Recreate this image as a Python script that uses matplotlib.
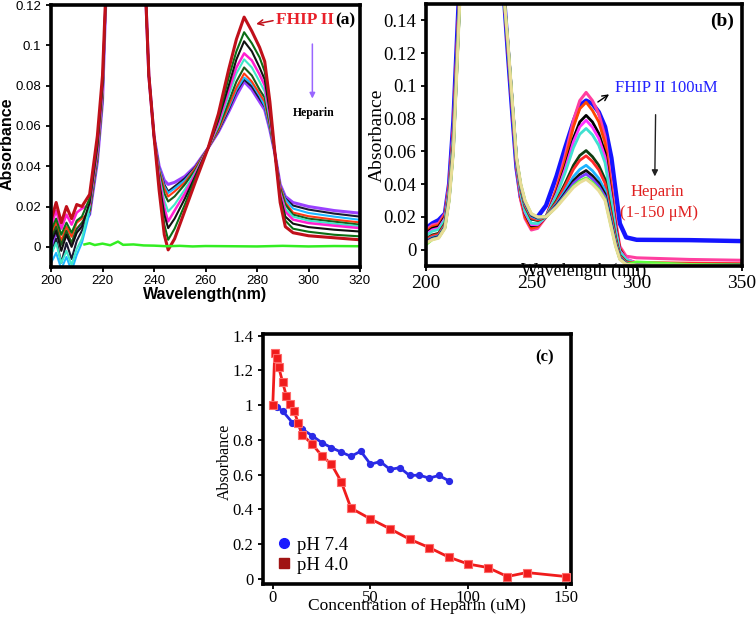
import matplotlib
matplotlib.use('Agg')
import matplotlib.pyplot as plt
import numpy as np
from matplotlib.lines import Line2D
from matplotlib.ticker import FuncFormatter

SERIF = ['Liberation Serif', 'DejaVu Serif']
SANS = ['Liberation Sans', 'DejaVu Sans']

# ---------------- Panel (a): UV-vis spectra, FHIP II + heparin ----------------
wl_a = [200, 202, 204, 206, 208, 210, 212, 215, 218, 220, 222, 236, 238, 240, 242, 244, 245.5, 248,
        252, 256, 261, 265, 269, 272, 275, 278, 281, 283, 285, 287, 289, 291, 294, 300, 310, 320]
a_darkred = [.013, .022, .012, .020, .014, .021, .020, .026, .055, .085, .150, .150, .085, .055, .028, .006, -.0015, .004,
             .018, .032, .049, .066, .088, .103, .114, .107, .099, .092, .072, .046, .022, .010, .007, .0055, .0045, .0035]
a_green1 = [.008, .014, .006, .012, .007, .013, .015, .024, .052, .082, .150, .150, .085, .055, .030, .011, .0035, .009,
            .021, .034, .049, .064, .084, .097, .1065, .101, .094, .087, .069, .046, .024, .013, .009, .0075, .006, .0052]
a_black1 = [.002, .008, -.002, .006, .000, .007, .010, .022, .050, .080, .150, .150, .085, .055, .032, .016, .0093, .014,
            .024, .035, .049, .063, .080, .093, .102, .097, .089, .083, .067, .046, .025, .015, .0115, .0098, .0085, .0076]
a_magenta = [.010, .018, .009, .016, .011, .017, .019, .021, .048, .078, .150, .150, .085, .055, .034, .0195, .0126, .018,
             .0265, .036, .049, .0615, .0775, .089, .096, .0925, .0855, .080, .065, .046, .0265, .0175, .0135, .0118, .0105, .0093]
a_aqua = [-.004, .002, -.008, -.002, -.009, -.001, .004, .020, .047, .077, .150, .150, .085, .055, .035, .023, .0175, .021,
          .0285, .037, .049, .060, .075, .086, .093, .089, .082, .077, .063, .046, .027, .019, .015, .013, .0115, .0102]
a_green2 = [.004, .010, .001, .008, .002, .009, .012, .018, .045, .075, .150, .150, .085, .055, .037, .0265, .0225, .025,
            .031, .038, .049, .059, .072, .082, .089, .085, .078, .074, .061, .046, .029, .021, .016, .014, .0125, .011]
a_red = [.006, .012, .003, .010, .005, .012, .014, .0175, .044, .074, .150, .150, .085, .055, .038, .029, .025, .0275,
         .032, .039, .049, .058, .070, .079, .086, .082, .076, .072, .060, .046, .030, .022, .017, .0152, .0135, .0121]
a_cyan = [-.008, -.003, -.011, -.005, -.012, -.004, .002, .017, .043, .073, .150, .150, .085, .055, .039, .030, .0267, .029,
          .033, .039, .049, .058, .069, .078, .084, .081, .075, .070, .059, .046, .030, .0235, .019, .0168, .015, .0134]
a_black2 = [-.004, .004, -.008, .002, -.006, .003, .008, .0165, .043, .073, .150, .150, .085, .055, .039, .031, .0275, .030,
            .034, .0395, .049, .0575, .068, .077, .083, .0795, .0735, .0695, .059, .046, .030, .024, .0205, .0185, .0165, .015]
a_purple = [.000, .007, .002, .006, .001, .008, .011, .016, .042, .072, .150, .150, .085, .055, .040, .033, .031, .032,
            .035, .040, .049, .057, .067, .075, .082, .078, .072, .068, .058, .046, .031, .025, .022, .020, .018, .0167]
wl_a_blank = [213, 215, 217, 220, 223, 226, 228, 232, 236, 240, 245, 250, 255, 260, 270, 280, 290, 300, 310, 320]
a_blank = [.0012, .0018, .0009, .0016, .0008, .0026, .0010, .0012, .0007, .0006, .0003, .0005, .0002, .0004,
           .0003, .0002, .0005, .0002, .0004, .0003]

series_a = [
    (a_purple, '#9a40ff', 2.2), (a_black2, '#1a1a33', 1.5), (a_cyan, '#1eb8ff', 1.5), (a_red, '#ff3a14', 1.5),
    (a_green2, '#1a5c1a', 1.5), (a_aqua, '#40e8c8', 1.5), (a_magenta, '#ff20d0', 1.8), (a_black1, '#111111', 1.5),
    (a_green1, '#0a6e14', 1.5), (a_darkred, '#c0101a', 2.2),
]

# ---------------- Panel (b) ----------------
wl_b = [200, 203, 206, 209, 211, 213, 216, 237, 239, 241, 243, 245, 247, 250, 253, 257,
        262, 266, 270, 273, 276, 279, 282, 285, 288, 290, 292, 295, 300, 325, 350]
b_fhip = [.013, .016, .018, .022, .040, .078, .165, .155, .118, .083, .050, .032, .024, .019, .020, .027,
          .045, .062, .078, .088, .091, .089, .084, .075, .056, .036, .016, .0075, .006, .0058, .0052]
b_pink = [.012, .015, .016, .022, .040, .075, .160, .155, .120, .085, .050, .030, .019, .012, .013, .020,
          .038, .057, .079, .091, .096, .091, .083, .069, .040, .018, .002, -.004, -.005, -.006, -.0065]
b_orange = [.011, .014, .015, .021, .039, .073, .159, .155, .121, .086, .051, .031, .020, .013, .014, .020,
            .037, .054, .075, .086, .090, .085, .078, .065, .037, .016, .001, -.006, -.0080, -.0085, -.0088]
b_black1 = [.010, .013, .014, .020, .037, .071, .157, .155, .121, .086, .052, .033, .022, .0145, .015, .020,
            .035, .0505, .068, .078, .082, .078, .071, .059, .033, .014, .000, -.006, -.0085, -.0088, -.0090]
b_magenta = [.0094, .0121, .0131, .0191, .0368, .0702, .157, .155, .1216, .0866, .0519, .0332, .0225, .0152, .0152, .020,
             .0342, .049, .0659, .075, .079, .0747, .068, .0565, .0314, .0129, -.0006, -.0056, -.0082, -.0086, -.0089]
b_turq = [.0087, .0113, .0123, .0183, .0359, .0688, .156, .155, .122, .087, .0525, .0341, .0235, .0161, .0159, .020,
          .0331, .0468, .0622, .0705, .074, .0701, .0637, .053, .0289, .0114, -.0013, -.006, -.0088, -.0090, -.0092]
b_dkgreen = [.0066, .009, .010, .016, .0333, .065, .153, .155, .1234, .0884, .054, .0367, .0264, .0187, .0177, .020,
             .030, .0403, .0515, .0575, .0605, .0568, .0515, .0429, .0219, .0073, -.0034, -.0074, -.0086, -.0089, -.0091]
b_red = [.0062, .0084, .0094, .0154, .0327, .064, .153, .155, .1237, .0887, .0544, .0373, .027, .0193, .0181, .020,
         .0292, .0388, .0491, .0545, .0573, .0538, .0487, .0405, .0203, .0063, -.0038, -.0077, -.0080, -.0082, -.0086]
b_sky = [.0053, .0074, .0084, .0144, .0316, .0624, .152, .155, .1242, .0892, .055, .0384, .0282, .0204, .0189, .020,
         .0279, .036, .0446, .049, .0515, .0482, .0435, .0362, .0173, .0046, -.0047, -.0082, -.0090, -.0092, -.0094]
b_black2 = [.0048, .0069, .0079, .0139, .031, .0615, .151, .155, .1245, .0895, .0554, .039, .0289, .021, .0193, .020,
            .0272, .0345, .0421, .046, .0483, .0451, .0407, .0339, .0157, .0036, -.0052, -.0085, -.0088, -.0091, -.0093]
b_purple = [.0045, .0065, .0075, .0135, .0306, .0609, .151, .155, .1247, .0897, .0556, .0394, .0293, .0214, .0196, .020,
            .0267, .0335, .0405, .044, .0462, .0431, .0388, .0323, .0146, .003, -.0055, -.0087, -.0092, -.0094, -.0095]
b_lime = [.003, .0062, .0072, .0132, .0302, .0603, .150, .155, .1249, .0899, .0559, .0398, .0298, .0218, .0199, .020,
          .0262, .0325, .0388, .042, .0438, .041, .0369, .0308, .0135, .0023, -.0058, -.0089, -.0075, -.0090, -.0093]
b_khaki = [.004, .006, .007, .013, .030, .060, .150, .155, .125, .090, .056, .040, .030, .022, .020, .020,
           .026, .032, .038, .041, .043, .040, .036, .030, .013, .002, -.006, -.009, -.0095, -.0096, -.0097]

series_b = [
    (b_fhip, '#1414ff', 3.2), (b_pink, '#ff3fa0', 2.2), (b_orange, '#ff4500', 2.0), (b_black1, '#000000', 2.0),
    (b_magenta, '#ff33ff', 2.0), (b_turq, '#40e0d0', 2.0), (b_dkgreen, '#0f3d0f', 2.0), (b_red, '#ff2a2a', 2.0),
    (b_sky, '#1eb4ff', 2.0), (b_black2, '#111111', 2.0), (b_purple, '#7b3fff', 2.0), (b_lime, '#5cff3c', 2.0),
    (b_khaki, '#e8dc96', 2.2),
]

# ---------------- Panel (c) ----------------
conc_ph74 = [2, 5, 10, 15, 20, 25, 30, 35, 40, 45, 50, 55, 60, 65, 70, 75, 80, 85, 90]
abs_ph74 = [0.99, 0.967, 0.90, 0.863, 0.825, 0.785, 0.755, 0.73, 0.705, 0.735, 0.66, 0.675, 0.63, 0.64,
            0.595, 0.597, 0.58, 0.595, 0.565]
conc_ph40 = [0, 1, 2, 3, 5, 7, 9, 11, 13, 15, 20, 25, 30, 35, 40, 50, 60, 70, 80, 90, 100, 110, 120, 130, 150]
abs_ph40 = [1.00, 1.30, 1.27, 1.22, 1.135, 1.05, 1.005, 0.965, 0.895, 0.83, 0.778, 0.71, 0.66, 0.56, 0.407,
            0.345, 0.288, 0.228, 0.18, 0.125, 0.085, 0.065, 0.013, 0.036, 0.013]

fmt = FuncFormatter(lambda v, p: f'{v:g}')

fig = plt.figure(figsize=(7.56, 6.18), dpi=100)
W, H = 756, 618
def box(l, t, r, b):
    return [l / W, 1 - b / H, (r - l) / W, (b - t) / H]

axA = fig.add_axes(box(51, 5, 360, 267))
axB = fig.add_axes(box(426, 4, 742, 266))
axC = fig.add_axes(box(263, 334, 571, 584))

for ax in (axA, axB, axC):
    for s in ax.spines.values():
        s.set_linewidth(2.6)
    ax.tick_params(direction='out', length=3.5, width=1.3)
    ax.yaxis.set_major_formatter(fmt)
    ax.xaxis.set_major_formatter(fmt)

# ----- (a)
for vals, col, lw in series_a:
    axA.plot(wl_a, vals, color=col, lw=lw, solid_joinstyle='round')
axA.plot(wl_a_blank, a_blank, color='#33ee22', lw=1.8)
axA.set_xlim(200, 320)
axA.set_ylim(-0.01, 0.12)
axA.set_xticks(np.arange(200, 321, 20))
axA.set_yticks(np.arange(0, 0.121, 0.02))
axA.tick_params(axis='x', pad=2.5)
for lab in axA.get_xticklabels() + axA.get_yticklabels():
    lab.set_family(SANS); lab.set_fontsize(9.5)
axA.set_xlabel('Wavelength(nm)', family=SANS, fontsize=11.5, fontweight='bold', labelpad=0)
axA.set_ylabel('Absorbance', family=SANS, fontsize=11.5, fontweight='bold')
axA.yaxis.set_label_coords(-0.118, 0.47)
axA.annotate('', xy=(278.6, 0.1103), xytext=(287.3, 0.1125),
             arrowprops=dict(arrowstyle='->', color='#c0101a', lw=1.1))
axA.text(287.5, 0.1125, 'FHIP II', color='#e8202a', family=SERIF, fontweight='bold', fontsize=12.5,
         ha='left', va='center')
axA.text(310.2, 0.1125, '(a)', color='black', family=SERIF, fontweight='bold', fontsize=12.5,
         ha='left', va='center')
axA.annotate('', xy=(301.5, 0.0722), xytext=(301.5, 0.102),
             arrowprops=dict(arrowstyle='-|>', color='#9966ff', lw=1.1, mutation_scale=8))
axA.text(302.2, 0.0664, 'Heparin', color='black', family=SERIF, fontweight='bold', fontsize=8.5,
         ha='center', va='center')

# ----- (b)
for vals, col, lw in series_b:
    axB.plot(wl_b, vals, color=col, lw=lw, solid_joinstyle='round')
axB.set_xlim(200, 350)
axB.set_ylim(-0.01, 0.15)
axB.set_xticks([200, 250, 300, 350])
axB.set_yticks(np.arange(0, 0.141, 0.02))
axB.tick_params(axis='x', pad=3)
for lab in axB.get_xticklabels():
    lab.set_family(SERIF); lab.set_fontsize(14)
for lab in axB.get_yticklabels():
    lab.set_family(SERIF); lab.set_fontsize(13.5)
axB.set_xlabel('Wavelength (nm)', family=SERIF, fontsize=13)
axB.xaxis.label.set_verticalalignment('center')
axB.xaxis.set_label_coords(0.5, -0.022)
axB.set_ylabel('Absorbance', family=SERIF, fontsize=14)
axB.yaxis.set_label_coords(-0.128, 0.5)
axB.text(340.5, 0.1395, '(b)', family=SERIF, fontweight='bold', fontsize=14, ha='center', va='center')
axB.annotate('', xy=(288.0, 0.0958), xytext=(280.5, 0.0892),
             arrowprops=dict(arrowstyle='->', color='black', lw=1.0))
axB.text(289.5, 0.099, 'FHIP II 100uM', color='#2020ff', family=SERIF, fontsize=12, ha='left', va='center')
axB.annotate('', xy=(308.6, 0.043), xytext=(309.0, 0.0841),
             arrowprops=dict(arrowstyle='-|>', color='#222222', lw=1.0, mutation_scale=9))
axB.text(310, 0.0349, 'Heparin', color='#e02020', family=SERIF, fontsize=12, ha='center', va='center')
axB.text(310.5, 0.0226, '(1-150 μM)', color='#e02020', family=SERIF, fontsize=12, ha='center', va='center')

# ----- (c)
axC.plot(conc_ph40, abs_ph40, color='#f01c1c', lw=2.0, marker='s', markersize=5.2,
         markerfacecolor='#f01c1c', markeredgecolor='#ff6a6a', markeredgewidth=0.8, zorder=3)
axC.plot(conc_ph74, abs_ph74, color='#2a2ae6', lw=2.0, marker='o', markersize=4.2,
         markerfacecolor='#2a2ae6', markeredgecolor='#2a2ae6', zorder=2)
axC.set_xlim(-5, 152.6)
axC.set_ylim(-0.03, 1.41)
axC.set_xticks([0, 50, 100, 150])
axC.set_yticks(np.arange(0, 1.41, 0.2))
axC.tick_params(axis='x', pad=1.0)
for lab in axC.get_xticklabels() + axC.get_yticklabels():
    lab.set_family(SERIF); lab.set_fontsize(12)
axC.set_xlabel('Concentration of Heparin (uM)', family=SERIF, fontsize=12.5)
axC.xaxis.set_label_coords(0.5, -0.058)
axC.set_ylabel('Absorbance', family=SERIF, fontsize=11.5)
axC.yaxis.set_label_coords(-0.097, 0.49)
axC.text(0.915, 0.905, '(c)', transform=axC.transAxes, family=SERIF, fontweight='bold', fontsize=12,
         ha='center', va='center')
handles = [Line2D([], [], ls='none', marker='o', color='#1a1aff', markersize=7),
           Line2D([], [], ls='none', marker='s', color='#a01414', markersize=7)]
axC.legend(handles, ['pH 7.4', 'pH 4.0'], loc='lower left', bbox_to_anchor=(0.007, -0.012), frameon=False,
           prop={'family': SERIF, 'size': 13.5}, handlelength=0.6, handletextpad=0.4, labelspacing=0.15,
           borderpad=0.2)

fig.savefig('out.png', dpi=100, facecolor='white')
